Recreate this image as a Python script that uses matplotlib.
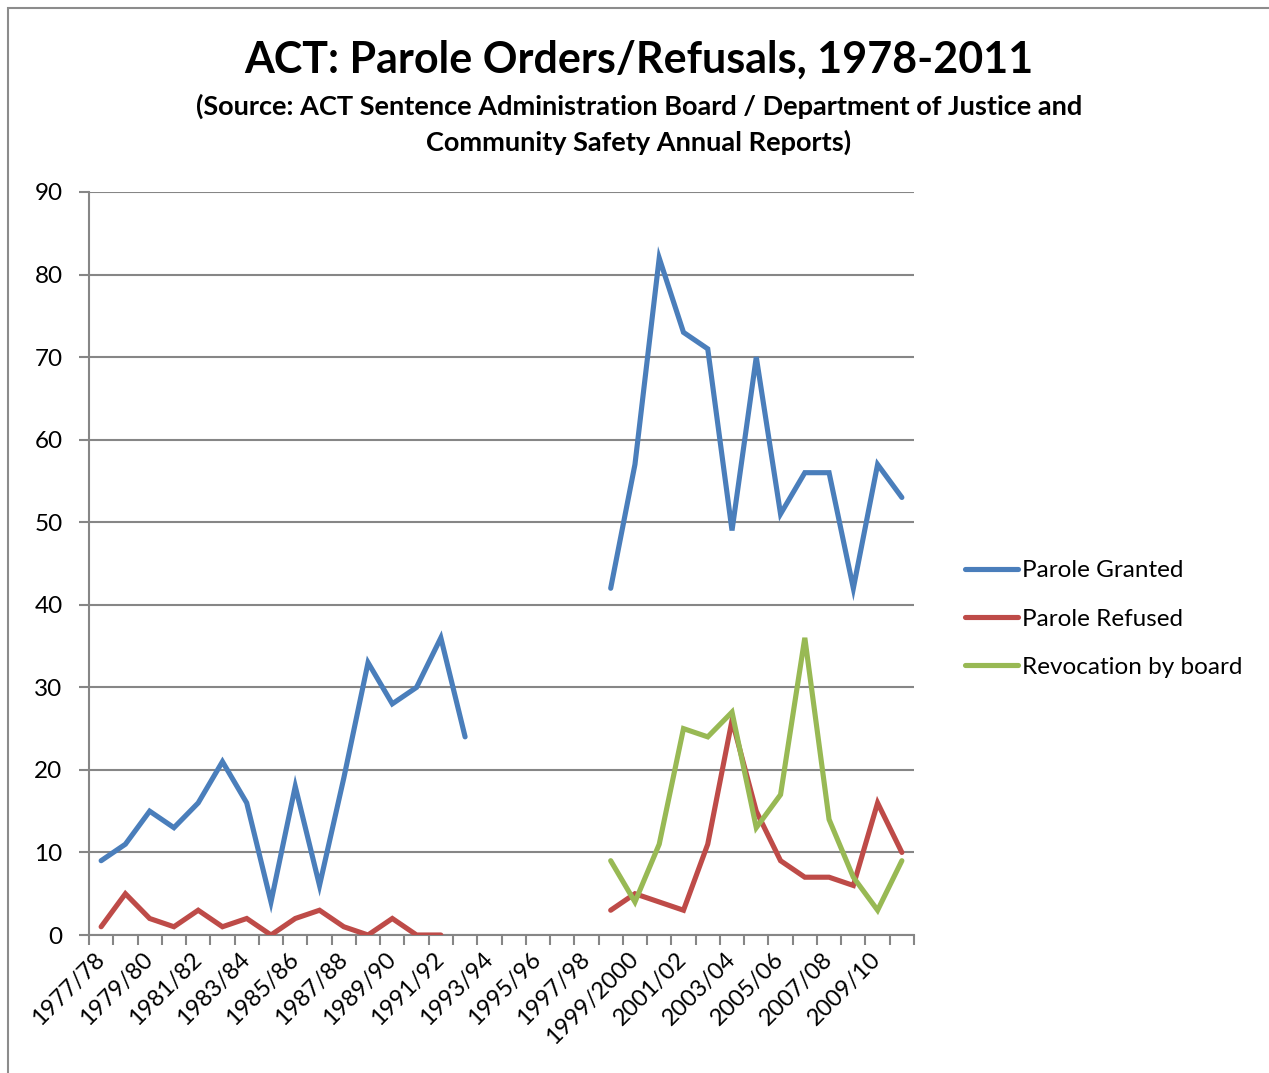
import numpy as np
import matplotlib
matplotlib.use("Agg")
import matplotlib.pyplot as plt
from matplotlib.patches import Rectangle

nan = np.nan
years = ["1977/78", "1978/79", "1979/80", "1980/81", "1981/82", "1982/83", "1983/84",
         "1984/85", "1985/86", "1986/87", "1987/88", "1988/89", "1989/90", "1990/91",
         "1991/92", "1992/93", "1993/94", "1994/95", "1995/96", "1996/97", "1997/98",
         "1998/99", "1999/2000", "2000/01", "2001/02", "2002/03", "2003/04", "2004/05",
         "2005/06", "2006/07", "2007/08", "2008/09", "2009/10", "2010/11"]

parole_granted = [9, 11, 15, 13, 16, 21, 16, 4, 18, 6, 19, 33, 28, 30, 36, 24,
                  nan, nan, nan, nan, nan,
                  42, 57, 82, 73, 71, 49, 70, 51, 56, 56, 42, 57, 53]
parole_refused = [1, 5, 2, 1, 3, 1, 2, 0, 2, 3, 1, 0, 2, 0, 0,
                  nan, nan, nan, nan, nan, nan,
                  3, 5, 4, 3, 11, 26, 15, 9, 7, 7, 6, 16, 10]
revocation = [nan] * 21 + [9, 4, 11, 25, 24, 27, 13, 17, 36, 14, 7, 3, 9]

series_names = ["Parole Granted", "Parole Refused", "Revocation by board"]
colors = ["#4A7EBB", "#BE4B48", "#98B954"]

title = "ACT: Parole Orders/Refusals, 1978-2011"
subtitle = ("(Source: ACT Sentence Administration Board / Department of Justice and\n"
            "Community Safety Annual Reports)")

plt.rcParams['font.family'] = ['Lato', 'DejaVu Sans']

W, H = 1269, 1073
fig = plt.figure(figsize=(W / 100, H / 100), dpi=100)
fig.patch.set_facecolor("white")

# outer chart border
fig.add_artist(Rectangle((8 / W, -0.01), 1.02, 1 - 8 / H + 0.01, transform=fig.transFigure,
                         fill=False, edgecolor="#8C8C8C", linewidth=1.5))

ax = fig.add_axes([89 / W, 1 - 935 / H, (914 - 89) / W, (935 - 192) / H])

x = np.arange(len(years))
for vals, name, c in zip([parole_granted, parole_refused, revocation], series_names, colors):
    ax.plot(x, vals, color=c, linewidth=3.7, label=name, solid_capstyle="round",
            solid_joinstyle="miter", zorder=3)

ax.set_xlim(-0.5, len(years) - 0.5)
ax.set_ylim(0, 90)
ax.set_yticks(np.arange(0, 91, 10))
ax.yaxis.grid(True, color="#868686", linewidth=1.5)
ax.set_axisbelow(True)

for s in ["top", "right"]:
    ax.spines[s].set_visible(False)
for s in ["left", "bottom"]:
    ax.spines[s].set_color("#868686")
    ax.spines[s].set_linewidth(1.5)

ax.set_xticks(x[::2])
ax.set_xticklabels(years[::2], rotation=45, ha="right", va="center",
                   rotation_mode="anchor", fontsize=17)
ax.set_xticks(np.arange(-0.5, len(years), 1), minor=True)
ax.tick_params(axis="x", which="major", length=0, pad=15)
ax.tick_params(axis="x", which="minor", length=7, width=1.5, color="#868686")
ax.tick_params(axis="y", length=7, width=1.5, color="#868686", pad=12, labelsize=17.5)

cx = 639 / W
fig.text(cx, 1 - 60 / H, title, ha="center", va="center", fontsize=31, fontweight="bold")
fig.text(cx, 1 - 124 / H, subtitle, ha="center", va="center", fontsize=19.5,
         fontweight="bold", linespacing=1.5)

fig.legend(loc="center left", bbox_to_anchor=(965 / W, 1 - 619 / H), frameon=False,
           fontsize=17.5, handlelength=2.2, handletextpad=0.15, borderpad=0,
           borderaxespad=0, labelspacing=1.12)

fig.savefig("out.png", dpi=100)
